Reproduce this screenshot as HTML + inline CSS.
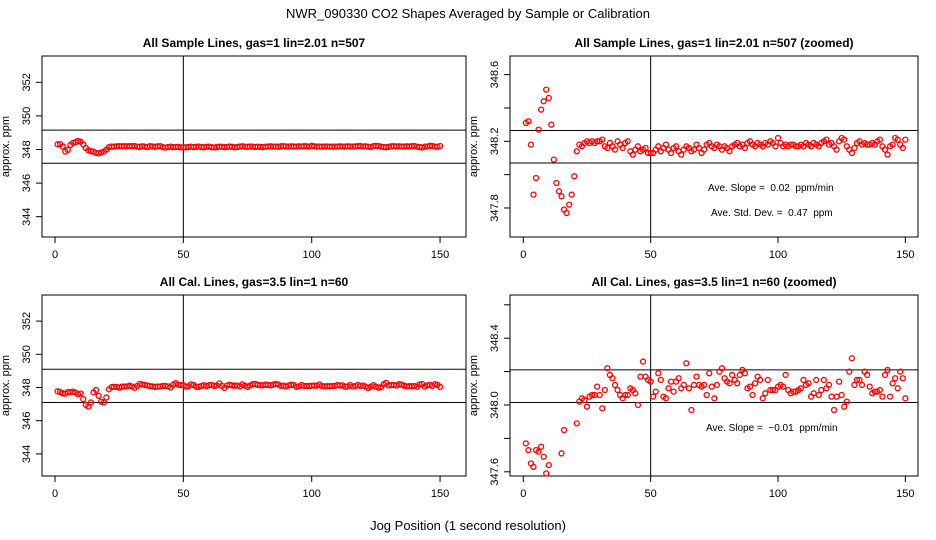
<!DOCTYPE html>
<html><head><meta charset="utf-8"><style>
html,body{margin:0;padding:0;background:#fff;width:936px;height:540px;overflow:hidden;}
svg{display:block;font-family:"Liberation Sans",sans-serif;}
</style></head><body>
<svg id="c" width="936" height="540" viewBox="0 0 936 540" overflow="hidden">
<text x="468" y="18" font-size="13" text-anchor="middle">NWR_090330  CO2 Shapes Averaged by Sample or Calibration</text>
<text x="468" y="530" font-size="13" text-anchor="middle">Jog Position (1 second resolution)</text>
</svg>
<script>
const sampleValues=[348.31,348.32,348.18,347.88,347.98,348.27,348.39,348.44,348.51,348.46,348.30,348.09,347.95,347.90,347.87,347.79,347.77,347.82,347.88,347.99,
348.14,348.18,348.17,348.19,348.20,348.19,348.20,348.19,348.20,348.20,348.21,348.17,348.16,348.19,348.17,348.15,348.20,348.18,348.16,348.19,
348.20,348.14,348.12,348.15,348.17,348.14,348.15,348.16,348.13,348.13,348.13,348.15,348.17,348.14,348.16,348.18,348.15,348.13,348.16,348.17,
348.14,348.12,348.15,348.17,348.16,348.14,348.15,348.18,348.16,348.13,348.15,348.18,348.19,348.17,348.16,348.18,348.17,348.15,348.17,348.16,
348.14,348.17,348.18,348.19,348.17,348.18,348.16,348.19,348.20,348.18,348.17,348.19,348.18,348.17,348.19,348.18,348.20,348.19,348.17,348.22,
348.19,348.17,348.18,348.17,348.18,348.18,348.17,348.17,348.18,348.17,348.19,348.18,348.17,348.19,348.18,348.17,348.19,348.20,348.21,348.18,
348.19,348.17,348.15,348.20,348.22,348.21,348.17,348.15,348.13,348.16,348.19,348.20,348.18,348.19,348.18,348.18,348.19,348.18,348.20,348.21,
348.17,348.15,348.12,348.17,348.18,348.22,348.21,348.18,348.16,348.21];
const calValues=[347.77,347.73,347.65,347.63,347.73,347.72,347.75,347.69,347.59,347.64,347.30,346.95,346.85,347.10,347.71,347.85,347.50,347.15,347.10,347.40,
347.89,348.02,348.04,348.03,347.99,348.05,348.06,348.06,348.11,348.06,347.98,348.09,348.22,348.18,348.16,348.12,348.09,348.06,348.04,348.06,
348.06,348.10,348.09,348.07,348.00,348.17,348.26,348.17,348.15,348.14,348.05,348.08,348.19,348.15,348.05,348.04,348.10,348.14,348.08,348.14,
348.16,348.10,348.12,348.25,348.10,347.97,348.12,348.17,348.12,348.11,348.12,348.06,348.19,348.11,348.04,348.12,348.20,348.22,348.16,348.14,
348.13,348.18,348.15,348.13,348.18,348.21,348.19,348.10,348.11,348.06,348.13,348.17,348.15,348.04,348.07,348.15,348.09,348.09,348.09,348.11,
348.12,348.11,348.18,348.09,348.07,348.08,348.08,348.09,348.10,348.15,348.12,348.13,348.05,348.07,348.15,348.06,348.09,348.15,348.10,348.12,
348.05,347.97,348.05,348.14,348.06,347.99,348.02,348.20,348.28,348.12,348.15,348.15,348.12,348.20,348.18,348.11,348.07,348.08,348.08,348.09,
348.05,348.18,348.21,348.05,348.13,348.16,348.10,348.20,348.16,348.04];
const xTicks=[0,50,100,150];
const panels=[
 {name:'sample-full',title:'All Sample Lines, gas=1 lin=2.01 n=507',data:sampleValues,x0:42,x1:466,y0:56,y1:237,xa:55,xs:2.567,ya:149.5,yv:348,ys:16.8,ticks:[344,346,348,350,352],labels:[344,346,348,350,352],lines:[349.15,347.18]},
 {name:'sample-zoom',title:'All Sample Lines, gas=1 lin=2.01 n=507 (zoomed)',data:sampleValues,x0:510,x1:918,y0:56,y1:237,xa:523.3,xs:2.547,ya:141.3,yv:348.2,ys:166.7,ticks:[347.8,348,348.2,348.4,348.6],labels:[347.8,348.2,348.6],lines:[348.265,348.07],notes:[[708,191,'Ave. Slope =  0.02  ppm/min'],[711,216,'Ave. Std. Dev. =  0.47  ppm']]},
 {name:'cal-full',title:'All Cal. Lines, gas=3.5 lin=1 n=60',data:calValues,x0:42,x1:466,y0:295,y1:476,xa:55,xs:2.567,ya:387.5,yv:348,ys:16.6,ticks:[344,346,348,350,352],labels:[344,346,348,350,352],lines:[349.1,347.1]},
 {name:'cal-zoom',title:'All Cal. Lines, gas=3.5 lin=1 n=60 (zoomed)',data:calValues,x0:510,x1:918,y0:295,y1:476,xa:523.3,xs:2.547,ya:405,yv:348.0,ys:167,ticks:[347.6,347.8,348,348.2,348.4,348.6],labels:[347.6,348,348.4],lines:[348.21,348.015],notes:[[706,431,'Ave. Slope =  \u22120.01  ppm/min']]}
];
const svg=document.getElementById('c');
const NS='http://www.w3.org/2000/svg';
function mk(t,a,p){const e=document.createElementNS(NS,t);for(const k in a)e.setAttribute(k,a[k]);(p||svg).appendChild(e);return e;}
panels.forEach(p=>{
 const g=mk('g',{});
 
 
 const X=v=>p.xa+v*p.xs, Y=v=>p.ya-(v-p.yv)*p.ys;
 const t=mk('text',{x:(p.x0+p.x1)/2,y:p.y0-9,'font-size':12,'font-weight':'bold','text-anchor':'middle'},g);t.textContent=p.title;
 
 
 const box=mk('rect',{x:p.x0,y:p.y0,width:p.x1-p.x0,height:p.y1-p.y0,fill:'none',stroke:'#000','stroke-width':1},g);
 
 
 xTicks.forEach(v=>{const x=X(v);mk('line',{x1:x,x2:x,y1:p.y1,y2:p.y1+6,stroke:'#000'},g);
  const l=mk('text',{x:x,y:p.y1+21,'font-size':11,'text-anchor':'middle'},g);l.textContent=v;
  
  });
 p.ticks.forEach(v=>{const y=Y(v);mk('line',{x1:p.x0-6,x2:p.x0,y1:y,y2:y,stroke:'#000'},g);});
 p.labels.forEach(v=>{const y=Y(v);const lx=p.x0-12;
  const l=mk('text',{x:lx,y:y,'font-size':11,'text-anchor':'middle',transform:'rotate(-90 '+lx+' '+y+')'},g);
  l.textContent=(p.name.indexOf('zoom')>0?v.toFixed(1):v);
  
  });
 const yl=p.x0-33,ym=(p.y0+p.y1)/2;
 const ylab=mk('text',{x:yl,y:ym,'font-size':11,'text-anchor':'middle',transform:'rotate(-90 '+yl+' '+ym+')'},g);ylab.textContent='approx. ppm';
 
 
 const vl=mk('line',{x1:X(50),x2:X(50),y1:p.y0,y2:p.y1,stroke:'#000'},g);
 
 
 p.lines.forEach(v=>{const h=mk('line',{x1:p.x0,x2:p.x1,y1:Y(v),y2:Y(v),stroke:'#000'},g);
  
  });
 const pg=mk('g',{},g);
 p.data.forEach((v,i)=>{const cy=Y(v);if(cy<p.y0+1||cy>p.y1-1)return;
  const c=mk('circle',{cx:X(i+1),cy:cy,r:2.5,fill:'none',stroke:'#f00','stroke-width':1.3},pg);
  
  });
 (p.notes||[]).forEach(n=>{const a=mk('text',{x:n[0],y:n[1],'font-size':10},g);a.textContent=n[2];a.setAttribute('xml:space','preserve');a.style.whiteSpace='pre';
  
  });
});
</script>
</body></html>
